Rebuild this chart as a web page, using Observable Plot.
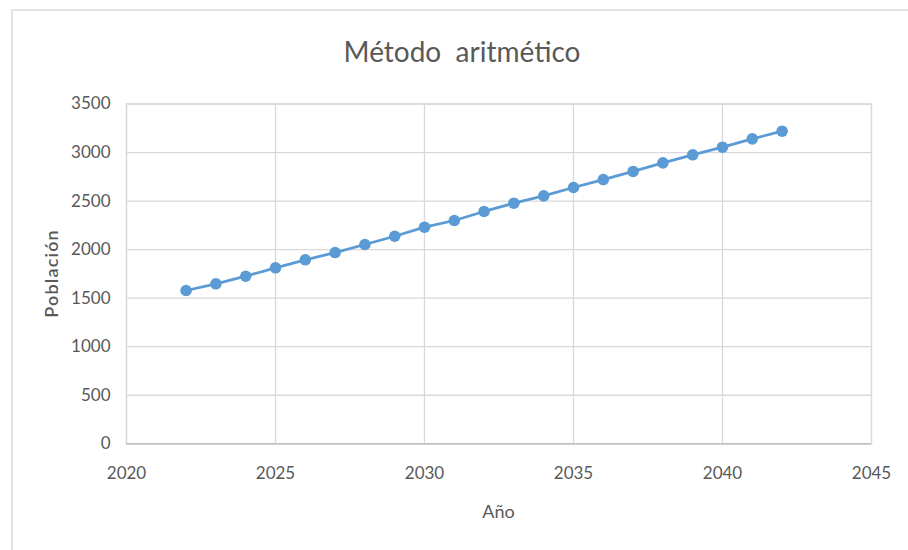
<!DOCTYPE html>
<html>
<head>
<meta charset="utf-8">
<script src="https://cdn.jsdelivr.net/npm/d3@7"></script>
<script src="https://cdn.jsdelivr.net/npm/@observablehq/plot@0.6"></script>
<style>
  html, body { margin: 0; padding: 0; background: #fff; }
  #wrap { position: relative; width: 908px; height: 550px; overflow: hidden; font-family: Lato, "Open Sans", sans-serif; }
  #border { position: absolute; left: 11px; top: 9px; width: 920px; height: 600px; border-left: 2px solid #e3e3e3; border-top: 2px solid #e3e3e3; }
  #title { position: absolute; left: 0; top: 34px; width: 924px; text-align: center; font-size: 28px; color: #595959; white-space: pre; }
  #chart { position: absolute; left: 0; top: 80px; }
</style>
</head>
<body>
<div id="wrap">
  <div id="border"></div>
  <div id="title">Método  aritmético</div>
  <div id="chart"></div>
</div>
<script>
const years = [2022, 2023, 2024, 2025, 2026, 2027, 2028, 2029, 2030, 2031, 2032, 2033, 2034, 2035, 2036, 2037, 2038, 2039, 2040, 2041, 2042];
const population = [1579, 1648, 1726, 1813, 1895, 1970, 2053, 2138, 2231, 2300, 2393, 2478, 2554, 2640, 2722, 2805, 2894, 2977, 3055, 3141, 3220];
const xTicks = [2020, 2025, 2030, 2035, 2040, 2045];
const yTicks = [0, 500, 1000, 1500, 2000, 2500, 3000, 3500];

const data = years.map((y, i) => ({year: y, pop: population[i]}));
const fmt = d => String(d);

const chart = Plot.plot({
  width: 908,
  height: 460,
  marginLeft: 126,
  marginRight: 37,
  marginTop: 23.5,
  marginBottom: 96.7,
  style: {fontFamily: "Lato, 'Open Sans', sans-serif", fontSize: "17px", color: "#595959", background: "transparent"},
  x: {domain: [2020, 2045], ticks: xTicks, tickFormat: fmt},
  y: {domain: [0, 3500], ticks: yTicks, tickFormat: fmt},
  marks: [
    Plot.gridX(xTicks, {stroke: "#d9d9d9", strokeOpacity: 1, strokeWidth: 1.3}),
    Plot.gridY(yTicks, {stroke: "#d9d9d9", strokeOpacity: 1, strokeWidth: 1.3}),
    Plot.frame({stroke: "#d9d9d9", strokeWidth: 1.3}),
    Plot.ruleY([0], {stroke: "#bfbfbf", strokeWidth: 1.5}),
    Plot.axisX(xTicks, {tickSize: 0, tickPadding: 23, tickFormat: fmt, fill: "#595959", fontSize: 17, label: null}),
    Plot.axisY(yTicks, {tickSize: 0, tickPadding: 16, tickFormat: fmt, fill: "#595959", fontSize: 17, label: null})
    ,
    Plot.line(data, {x: "year", y: "pop", stroke: "#5b9bd5", strokeWidth: 2.8}),
    Plot.dot(data, {x: "year", y: "pop", r: 5.8, fill: "#5b9bd5", stroke: "none"})
  ]
});
document.getElementById("chart").appendChild(chart);

// axis titles drawn as real text inside the svg, centred on the frame
const svg = d3.select(chart);
const ys = chart.scale("y");
const xs = chart.scale("x");
svg.append("text")
  .attr("transform", `translate(58, ${(ys.apply(0) + ys.apply(3500)) / 2}) rotate(-90)`)
  .attr("text-anchor", "middle")
  .attr("fill", "#595959")
  .attr("font-size", 18)
  .attr("font-weight", 600)
  .attr("letter-spacing", "1.2px")
  .attr("font-family", "Lato, 'Open Sans', sans-serif")
  .text("Población");
svg.append("text")
  .attr("x", (xs.apply(2020) + xs.apply(2045)) / 2)
  .attr("y", 438)
  .attr("text-anchor", "middle")
  .attr("fill", "#595959")
  .attr("font-size", 18)
  .attr("font-family", "Lato, 'Open Sans', sans-serif")
  .text("Año");
</script>
</body>
</html>
